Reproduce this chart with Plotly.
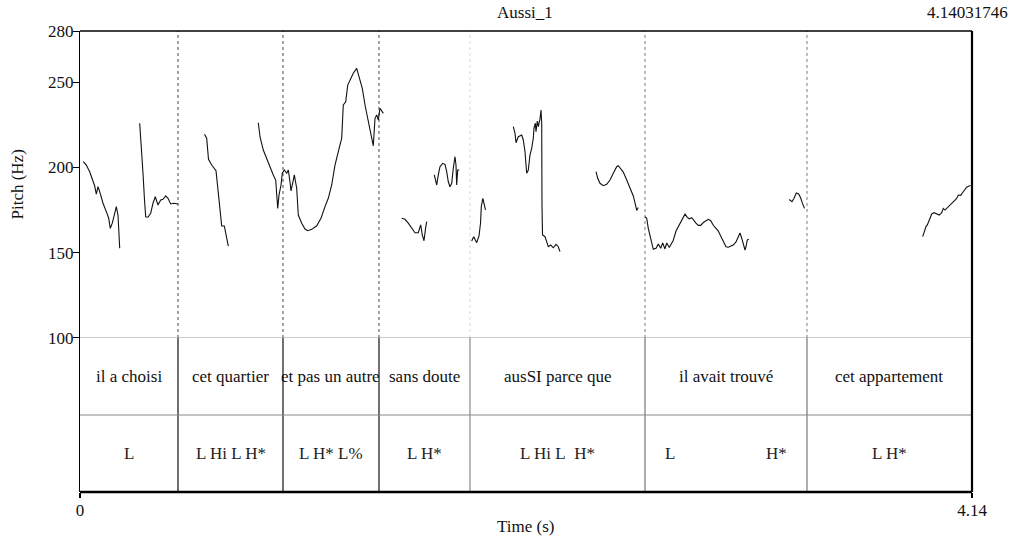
import plotly.graph_objects as go

# ---------------- data ----------------
T_END = 4.14031746
title_text = "Aussi_1"
pitch_ticks = [100, 150, 200, 250, 280]

boundaries = [0.4549, 0.9422, 1.3878, 1.8102, 2.6225, 3.3744]
words = ["il a choisi", "cet quartier", "et pas un autre", "sans doute",
         "ausSI parce que", "il avait trouvé", "cet appartement"]
tone_labels = ["L", "L Hi L H*", "L H* L%", "L H*", "L Hi L\u00a0\u00a0H*", "L", "H*", "L H*"]
tone_times = [0.2274, 0.6986, 1.1650, 1.5990, 2.2164, 2.7385, 3.2306, 3.7574]

seg1_t = [0.0153, 0.0292, 0.0450, 0.0603, 0.0682, 0.0757, 0.0835, 0.0914, 0.1068, 0.1221,
          0.1332, 0.1406, 0.1499, 0.1611, 0.1685, 0.1764, 0.1843]
seg1_hz = [203.4, 201.4, 197.5, 192.6, 189.1, 184.4, 188.7, 185.8, 179.0, 174.1,
           170.2, 164.3, 167.3, 173.1, 177.0, 172.1, 152.6]

seg2_t = [0.2771, 0.2845, 0.2924, 0.2994, 0.3050, 0.3156, 0.3282, 0.3388, 0.3495, 0.3620,
          0.3746, 0.3853, 0.3978, 0.4085, 0.4210, 0.4363, 0.4549]
seg2_hz = [225.9, 214.2, 196.6, 180.9, 171.1, 170.8, 173.1, 179.0, 182.8, 178.0,
           180.9, 181.3, 183.3, 181.9, 178.6, 179.0, 178.6]

seg3_t = [0.5779, 0.5881, 0.5927, 0.5965, 0.6113, 0.6313, 0.6373, 0.6466, 0.6531, 0.6577,
          0.6698, 0.6777, 0.6884]
seg3_hz = [219.4, 217.1, 210.2, 204.8, 201.4, 198.1, 190.7, 180.9, 173.1, 165.7,
           165.7, 160.4, 153.8]

seg4_t = [0.8276, 0.8355, 0.8508, 0.8740, 0.8972, 0.9084, 0.9130, 0.9177, 0.9237, 0.9330,
          0.9390, 0.9483, 0.9594, 0.9669, 0.9747, 0.9794, 0.9901, 0.9947, 1.0058, 1.0133,
          1.0290, 1.0444, 1.0569, 1.0755, 1.0987, 1.1186, 1.1372, 1.1525, 1.1683, 1.1836,
          1.2068, 1.2147, 1.2221, 1.2333, 1.2426, 1.2532, 1.2685, 1.2843, 1.2918, 1.3103,
          1.3229, 1.3382, 1.3507, 1.3614, 1.3693, 1.3772, 1.3846, 1.3925, 1.4078]
seg4_hz = [226.2, 218.0, 210.2, 202.4, 195.6, 192.6, 181.9, 176.0, 183.8, 189.7,
           196.6, 198.5, 196.6, 198.5, 191.6, 186.2, 192.6, 195.6, 187.8, 172.1,
           167.3, 163.9, 162.9, 163.7, 165.8, 170.2, 177.0, 181.9, 189.7, 201.4,
           213.2, 217.1, 236.6, 238.5, 248.3, 251.3, 255.2, 258.1, 254.2, 246.4,
           236.6, 226.8, 219.0, 212.7, 228.8, 230.8, 227.8, 234.7, 231.7]

seg5_t = [1.4932, 1.5085, 1.5238, 1.5396, 1.5549, 1.5702, 1.5814, 1.5888, 1.5967, 1.6046, 1.6092]
seg5_hz = [170.2, 169.6, 167.3, 164.3, 161.7, 161.7, 166.3, 160.4, 157.0, 164.9, 168.2]

seg6_t = [1.6445, 1.6557, 1.6631, 1.6710, 1.6835, 1.6942, 1.7021, 1.7095, 1.7174, 1.7253,
          1.7327, 1.7406, 1.7452, 1.7485, 1.7531, 1.7606]
seg6_hz = [195.6, 189.7, 195.6, 200.4, 202.4, 201.8, 197.5, 191.6, 188.7, 190.7,
           199.5, 206.3, 201.4, 189.7, 198.5, 198.5]

seg7_t = [1.8181, 1.8274, 1.8413, 1.8520, 1.8590, 1.8627, 1.8697, 1.8752, 1.8822]
seg7_hz = [156.9, 159.4, 155.9, 159.8, 167.3, 177.0, 181.9, 179.0, 175.1]

seg8_t = [2.0112, 2.0191, 2.0238, 2.0344, 2.0502, 2.0576, 2.0655, 2.0734, 2.0809, 2.0887,
          2.0966, 2.1040, 2.1073, 2.1134, 2.1166, 2.1226, 2.1273, 2.1351, 2.1398, 2.1431,
          2.1444, 2.1468, 2.1583, 2.1662, 2.1736, 2.1848, 2.1969, 2.2094, 2.2201, 2.2280]
seg8_hz = [223.9, 220.0, 214.5, 218.0, 219.0, 216.1, 209.2, 196.6, 198.5, 207.3,
           211.2, 217.1, 223.0, 225.9, 221.0, 227.2, 223.9, 228.4, 233.7, 226.0,
           178.0, 160.4, 159.4, 156.5, 153.5, 154.5, 152.9, 154.9, 153.5, 150.6]

seg9_t = [2.3951, 2.4030, 2.4136, 2.4290, 2.4447, 2.4600, 2.4754, 2.4911, 2.4986, 2.5097,
          2.5218, 2.5376, 2.5529, 2.5682, 2.5761, 2.5840, 2.5914]
seg9_hz = [197.5, 193.6, 190.7, 189.3, 190.1, 192.6, 196.6, 200.4, 201.0, 199.5,
           197.3, 192.6, 188.0, 183.3, 179.2, 174.8, 176.5]

seg10_t = [2.6225, 2.6304, 2.6378, 2.6490, 2.6611, 2.6736, 2.6843, 2.6954, 2.7047, 2.7153,
           2.7232, 2.7353, 2.7464, 2.7539, 2.7664, 2.7771, 2.7882, 2.8003, 2.8082, 2.8189,
           2.8281, 2.8393, 2.8467, 2.8592, 2.8699, 2.8810, 2.8931, 2.9056, 2.9163, 2.9275,
           2.9395, 2.9521, 2.9627, 2.9739, 2.9860, 2.9985, 3.0092, 3.0204, 3.0324, 3.0449,
           3.0556, 3.0635, 3.0714, 3.0788, 3.0867, 3.0913, 3.0974, 3.1039]
seg10_hz = [171.1, 170.2, 164.3, 157.5, 152.0, 152.6, 155.1, 152.6, 155.7, 152.2,
            155.7, 153.1, 155.5, 157.3, 162.7, 165.3, 167.8, 170.2, 172.6, 170.7,
            169.9, 170.5, 169.2, 167.4, 166.0, 166.0, 167.7, 169.0, 169.6, 168.8,
            166.1, 164.3, 162.7, 159.8, 156.5, 153.5, 153.2, 153.9, 154.5, 156.3,
            158.9, 161.6, 158.5, 155.5, 151.6, 153.5, 157.5, 157.9]

seg11_t = [3.2923, 3.3048, 3.3141, 3.3248, 3.3359, 3.3452, 3.3526, 3.3628]
seg11_hz = [181.2, 179.9, 181.9, 185.0, 184.4, 182.1, 179.2, 176.0]

seg12_t = [3.9115, 3.9175, 3.9268, 3.9329, 3.9421, 3.9533, 3.9639, 3.9765, 3.9885, 3.9997,
           4.0071, 4.0150, 4.0229, 4.0350, 4.0461, 4.0568, 4.0693, 4.0767, 4.0879, 4.0972,
           4.1078, 4.1157, 4.1264, 4.1343]
seg12_hz = [159.4, 162.3, 165.3, 166.3, 169.2, 172.7, 173.5, 172.7, 172.1, 173.5,
            176.0, 175.0, 176.0, 177.4, 178.6, 179.9, 181.8, 183.8, 183.6, 185.3,
            186.8, 188.4, 189.1, 189.4]

segments = [(seg1_t, seg1_hz), (seg2_t, seg2_hz), (seg3_t, seg3_hz), (seg4_t, seg4_hz),
            (seg5_t, seg5_hz), (seg6_t, seg6_hz), (seg7_t, seg7_hz), (seg8_t, seg8_hz),
            (seg9_t, seg9_hz), (seg10_t, seg10_hz), (seg11_t, seg11_hz), (seg12_t, seg12_hz)]

# ---------------- figure ----------------
FONT = "Liberation Serif, Times New Roman, serif"
FS = 17
TXT = "#111111"
fig = go.Figure()

for t, hz in segments:
    fig.add_trace(go.Scatter(x=t, y=hz, mode="lines",
                             line=dict(color="#111111", width=1.1),
                             xaxis="x", yaxis="y", showlegend=False, hoverinfo="skip"))

shapes = []
pitch_colors = ["#444", "#444", "#444", "#d8d8d8", "#777", "#777"]
tier_colors = ["#111", "#111", "#111", "#888", "#777", "#777"]
for b, pc, tc in zip(boundaries, pitch_colors, tier_colors):
    shapes.append(dict(type="line", xref="x", yref="y", x0=b, x1=b, y0=100, y1=280,
                       line=dict(color=pc, width=1, dash="dot"), layer="below"))
    shapes.append(dict(type="line", xref="x", yref="y2", x0=b, x1=b, y0=0, y1=2,
                       line=dict(color=tc, width=1.2)))
shapes.append(dict(type="line", xref="paper", yref="y", x0=0, x1=1, y0=100, y1=100,
                   line=dict(color="#999", width=1.2)))
shapes.append(dict(type="line", xref="paper", yref="y2", x0=0, x1=1, y0=1, y1=1,
                   line=dict(color="#888", width=1)))
shapes.append(dict(type="line", xref="paper", yref="paper", x0=0, x1=1, y0=1, y1=1,
                   line=dict(color="black", width=1.6)))
shapes.append(dict(type="line", xref="paper", yref="paper", x0=1, x1=1, y0=0, y1=1,
                   line=dict(color="black", width=2.2)))
shapes.append(dict(type="line", xref="paper", yref="paper", x0=0, x1=1, y0=0, y1=0,
                   line=dict(color="black", width=2.4)))

annotations = []
edges = [0.0] + boundaries + [T_END]
for i, w in enumerate(words):
    annotations.append(dict(x=(edges[i] + edges[i + 1]) / 2, y=1.5, xref="x", yref="y2",
                            xanchor="center", yanchor="middle",
                            text=w, showarrow=False, font=dict(family=FONT, size=FS, color=TXT)))
for t, lab in zip(tone_times, tone_labels):
    annotations.append(dict(x=t, y=0.5, xref="x", yref="y2", text=lab, showarrow=False,
                            xanchor="center", yanchor="middle",
                            font=dict(family=FONT, size=FS, color="#222")))
annotations += [
    dict(x=0.4989, y=1, xref="paper", yref="paper", xanchor="center", yanchor="bottom", yshift=7,
         text=title_text, showarrow=False, font=dict(family=FONT, size=FS, color=TXT)),
    dict(x=1.0426, y=1, xref="paper", yref="paper", xanchor="right", yanchor="bottom", yshift=7,
         text=f"{T_END:.8f}", showarrow=False, font=dict(family=FONT, size=FS, color=TXT)),
    dict(x=-0.0695, y=0.667, xref="paper", yref="paper", textangle=-90,
         xanchor="center", yanchor="middle",
         text="Pitch (Hz)", showarrow=False, font=dict(family=FONT, size=FS, color=TXT)),
    dict(x=0.4989, y=-0.0759, xref="paper", yref="paper", xanchor="center", yanchor="middle",
         text="Time (s)", showarrow=False, font=dict(family=FONT, size=FS, color=TXT)),
]

fig.update_layout(
    width=1018, height=543, autosize=False,
    margin=dict(l=80, r=46, t=31, b=51, pad=0),
    paper_bgcolor="white", plot_bgcolor="white",
    font=dict(family=FONT, size=FS, color=TXT),
    xaxis=dict(range=[0, T_END], anchor="y2", showgrid=False, zeroline=False, showline=False,
               tickvals=[0, T_END], ticktext=["0", "4.14"], ticks="outside", ticklen=5,
               tickcolor="black", tickwidth=1.5, ticklabelstandoff=-2,
               tickfont=dict(family=FONT, size=FS, color=TXT)),
    yaxis=dict(domain=[0.3341, 1], range=[100, 280], anchor="x", showgrid=False, zeroline=False,
               showline=True, linecolor="black", linewidth=1.2, tickvals=pitch_ticks,
               ticks="outside", ticklen=6, tickcolor="black", tickwidth=1, ticklabelstandoff=-4,
               tickfont=dict(family=FONT, size=FS, color=TXT)),
    yaxis2=dict(domain=[0, 0.3341], range=[0, 2], anchor="x", showgrid=False, zeroline=False,
                showline=True, linecolor="black", linewidth=1.2, showticklabels=False, ticks=""),
    shapes=shapes, annotations=annotations,
)

fig.write_html("out.html")
